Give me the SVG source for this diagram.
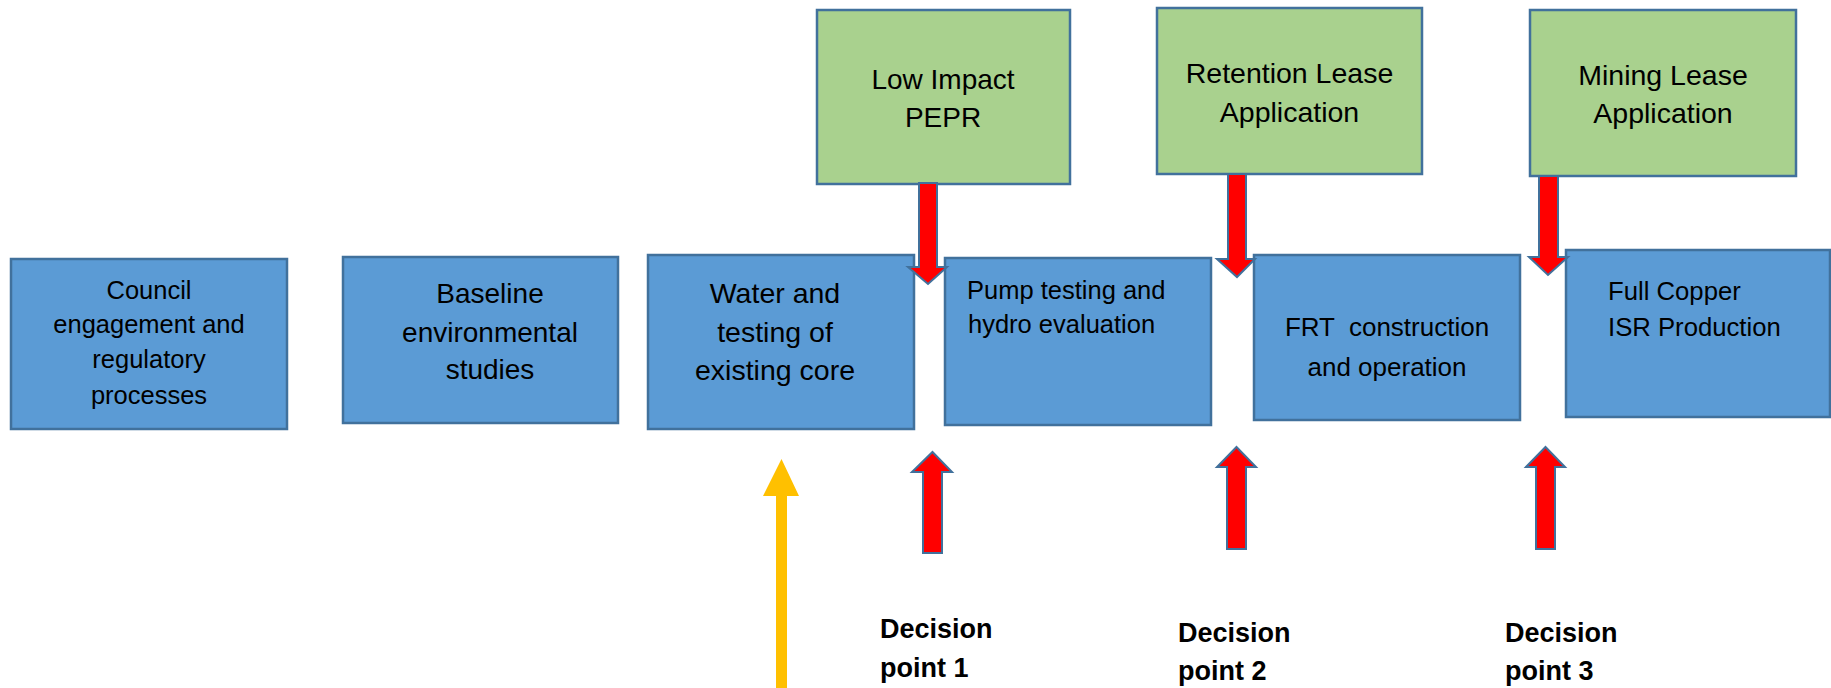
<svg xmlns="http://www.w3.org/2000/svg" width="1831" height="688" viewBox="0 0 1831 688">
<style>
.blue{fill:#5B9BD5;stroke:#41719C;stroke-width:2.5}
.green{fill:#A9D18E;stroke:#41719C;stroke-width:2.5}
.red{fill:#FF0000;stroke:#41719C;stroke-width:2;stroke-linejoin:miter}
.yel{fill:#FFC000}
text{font-family:"Liberation Sans",Arial,sans-serif;fill:#000;white-space:pre}
.c{text-anchor:middle}
.b{font-weight:bold;font-size:27px}
</style>
<rect width="1831" height="688" fill="#FFFFFF"/>
<g id="council">
<rect class="blue" x="11" y="259" width="276" height="170"/>
<text class="c" font-size="25.5"><tspan x="149" y="299">Council</tspan><tspan x="149" y="333">engagement and</tspan><tspan x="149" y="368">regulatory</tspan><tspan x="149" y="404">processes</tspan></text>
</g>
<g id="baseline">
<rect class="blue" x="343" y="257" width="275" height="166"/>
<text class="c" font-size="28"><tspan x="490" y="303">Baseline</tspan><tspan x="490" y="342">environmental</tspan><tspan x="490" y="379">studies</tspan></text>
</g>
<g id="water">
<rect class="blue" x="648" y="255" width="266" height="174"/>
<text class="c" font-size="28.5"><tspan x="775" y="303">Water and</tspan><tspan x="775" y="342">testing of</tspan><tspan x="775" y="380">existing core</tspan></text>
</g>
<g id="pump">
<rect class="blue" x="945" y="258" width="266" height="167"/>
<text font-size="25.5"><tspan x="967" y="299">Pump testing and</tspan><tspan x="968" y="333">hydro evaluation</tspan></text>
</g>
<g id="frt">
<rect class="blue" x="1254" y="255" width="266" height="165"/>
<text class="c" font-size="26"><tspan x="1387" y="336">FRT  construction</tspan><tspan x="1387" y="376">and operation</tspan></text>
</g>
<g id="fullcopper">
<rect class="blue" x="1566" y="250" width="264" height="167"/>
<text font-size="25.7"><tspan x="1608" y="300">Full Copper</tspan><tspan x="1608" y="336">ISR Production</tspan></text>
</g>
<g id="lowimpact">
<rect class="green" x="817" y="10" width="253" height="174"/>
<text class="c" font-size="28"><tspan x="943" y="89">Low Impact</tspan><tspan x="943" y="127">PEPR</tspan></text>
</g>
<g id="retention">
<rect class="green" x="1157" y="8" width="265" height="166"/>
<text class="c" font-size="28.5"><tspan x="1289.5" y="83">Retention Lease</tspan><tspan x="1289.5" y="122">Application</tspan></text>
</g>
<g id="mining">
<rect class="green" x="1530" y="10" width="266" height="166"/>
<text class="c" font-size="28.5"><tspan x="1663" y="85">Mining Lease</tspan><tspan x="1663" y="123">Application</tspan></text>
</g>
<g id="connectors">
<polygon class="red" points="919,183 937,183 937,267 947,267 928,284 908,267 919,267"/>
<polygon class="red" points="1228,174 1246,174 1246,259 1255,259 1237,277 1217,259 1228,259"/>
<polygon class="red" points="1539,176 1558,176 1558,257 1568,257 1548,275 1529,257 1539,257"/>
<polygon class="red" points="932.5,452 952,472 942,472 942,553 923,553 923,472 912,472"/>
<polygon class="red" points="1236.5,447 1256,467 1246,467 1246,549 1227,549 1227,467 1217,467"/>
<polygon class="red" points="1545.5,447 1565,467 1555,467 1555,549 1536,549 1536,467 1526,467"/>
<polygon class="yel" points="781.5,459 799,496 787,496 787,688 776,688 776,496 763,496"/>
</g>
<g id="decision1">
<text class="b"><tspan x="880" y="638">Decision</tspan><tspan x="880" y="677">point 1</tspan></text>
</g>
<g id="decision2">
<text class="b"><tspan x="1178" y="642">Decision</tspan><tspan x="1178" y="680">point 2</tspan></text>
</g>
<g id="decision3">
<text class="b"><tspan x="1505" y="642">Decision</tspan><tspan x="1505" y="680">point 3</tspan></text>
</g>
</svg>
